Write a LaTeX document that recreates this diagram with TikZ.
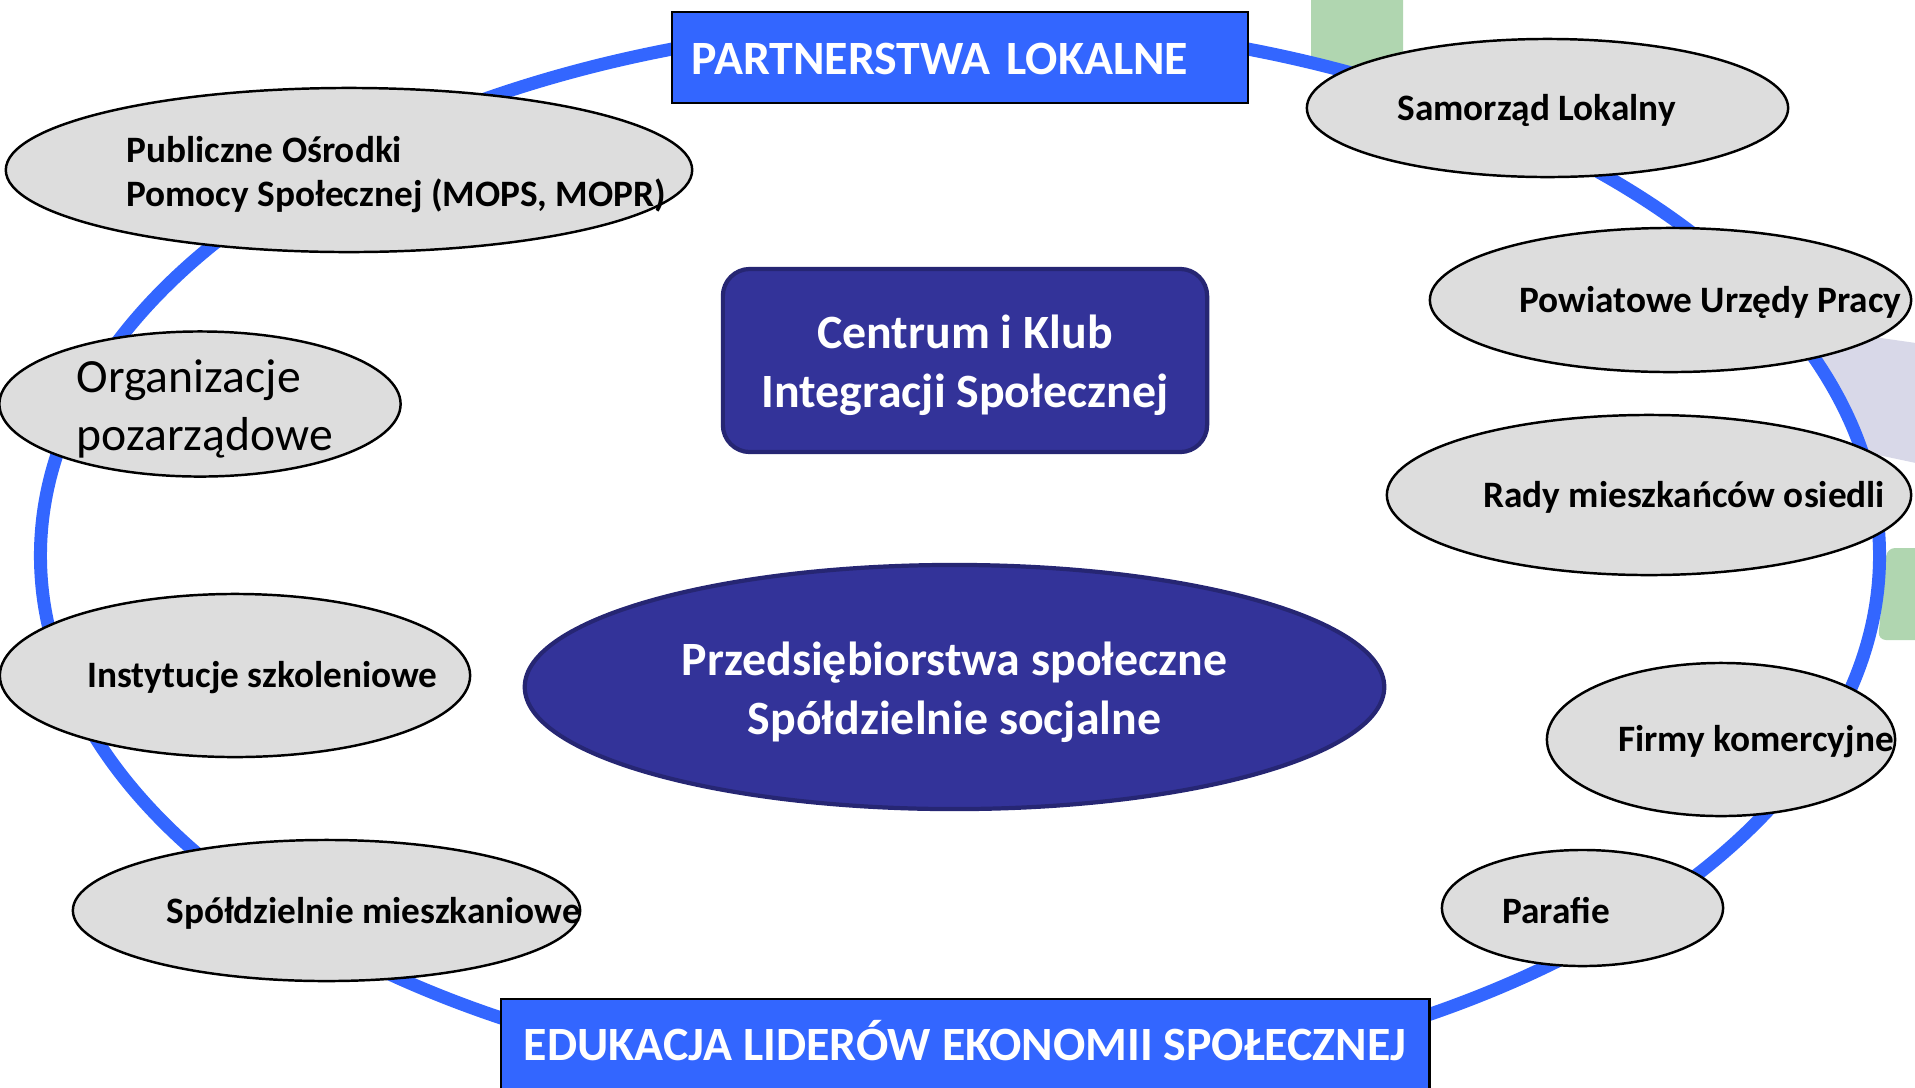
\documentclass[tikz,border=0pt]{standalone}
\usepackage{fontspec}
\setmainfont{Carlito}
\usepackage{xcolor}
\usepackage{tikz}
\usetikzlibrary{positioning,shapes.geometric}

\definecolor{ringblue}{HTML}{3366FF}
\definecolor{navyfill}{HTML}{333399}
\definecolor{navyline}{HTML}{262673}
\definecolor{greyfill}{HTML}{DDDDDD}
\definecolor{bggreen}{HTML}{B0D6B0}
\definecolor{bglilac}{HTML}{D8D8E8}

\begin{document}
\begin{tikzpicture}[
	% --- UKŁAD: 1 jednostka = 1 piksel obrazu ---
	x=0.01cm, y=-0.01cm,
	% --- STYLE ---
	partner/.style={
		ellipse, draw=black, line width=0.7pt,
		fill=greyfill, inner sep=0pt
	},
	partner_txt/.style={
		inner sep=0pt, align=left, yshift=-0.025cm,
		font=\fontsize{10.6}{12.5}\selectfont\bfseries
	},
	head_box/.style={
		rectangle, draw=black, line width=0.7pt, fill=ringblue,
		text=white, inner sep=0pt, text height=8.8pt, text depth=0pt,
		font=\fontsize{13.6}{16}\selectfont\bfseries
	},
	core/.style={
		draw=navyline, line width=1.2pt, fill=navyfill, inner sep=0pt
	},
	core_txt/.style={
		inner sep=0pt, text=white, align=center,
		font=\fontsize{13.6}{16.9}\selectfont\bfseries
	}
	]
	\useasboundingbox (0,0) rectangle (1915,1087);
	
	% Tło (fragmenty pasów)
	\fill[bggreen] (1311,-5) -- (1403,-5) -- (1403,75) -- (1350,72) -- (1311,64) -- cycle;
	\fill[bglilac] (1790,325) -- (1930,345) -- (1930,466) -- (1864,452) -- (1835,390) -- cycle;
	\fill[bggreen, rounded corners=0.08cm] (1930,548) -- (1887,548) -- (1878,640) -- (1930,640);
	
	% Pierścień
	\draw[ringblue, line width=0.13cm] (960,555.7) ellipse [x radius=9.19cm, y radius=5.33cm];
	
	% Nagłówki
	\node[head_box, minimum width=5.76cm, minimum height=0.91cm, text height=9.4pt,
		text width=5.36cm, inner xsep=0.2cm, align=left] (partnerstwa) at (960,57.5) {PARTNERSTWA LOKALNE};
	\node[head_box, minimum width=9.28cm, minimum height=0.92cm] (edukacja) at (965,1045) {EDUKACJA LIDERÓW EKONOMII SPOŁECZNEJ};
	
	% Środek
	\node[core, rectangle, rounded corners=0.27cm, minimum width=4.84cm, minimum height=1.83cm] (cis) at (965,360.5) {};
	\node[core_txt] (cis_t) at ([yshift=-0.045cm]cis.center) {Centrum i Klub\\Integracji Społecznej};
	\node[core, ellipse, minimum width=8.59cm, minimum height=2.44cm] (przeds) at (954.5,687) {};
	\node[core_txt] (przeds_t) at ([yshift=-0.055cm]przeds.center) {Przedsiębiorstwa społeczne\\Spółdzielnie socjalne};
	
	% Lewa strona
	\node[partner, minimum width=6.86cm, minimum height=1.64cm] (ops) at (349,170) {};
	\node[partner_txt, right=1.21cm of ops.west, yshift=-0.018cm] (ops_t) {Publiczne Ośrodki\\Pomocy Społecznej (MOPS, MOPR)};
	
	\node[partner, minimum width=4.01cm, minimum height=1.45cm] (ngo) at (200,404) {};
	\node[partner_txt, right=0.78cm of ngo.west, yshift=-0.025cm, font=\fontsize{13.55}{16.3}\selectfont] (ngo_t) {Organizacje\\pozarządowe};
	
	\node[partner, minimum width=4.70cm, minimum height=1.63cm] (szkol) at (235,675.5) {};
	\node[partner_txt, right=0.88cm of szkol.west] (szkol_t) {Instytucje szkoleniowe};
	
	\node[partner, minimum width=5.07cm, minimum height=1.41cm] (spmieszk) at (326.5,910.5) {};
	\node[partner_txt, right=0.94cm of spmieszk.west] (spmieszk_t) {Spółdzielnie mieszkaniowe};
	
	% Prawa strona
	\node[partner, minimum width=4.81cm, minimum height=1.38cm] (samorzad) at (1547.5,108) {};
	\node[partner_txt, right=0.91cm of samorzad.west] (samorzad_t) {Samorząd Lokalny};
	
	\node[partner, minimum width=4.81cm, minimum height=1.44cm] (pup) at (1670.5,300) {};
	\node[partner_txt, right=0.90cm of pup.west] (pup_t) {Powiatowe Urzędy Pracy};
	
	\node[partner, minimum width=5.24cm, minimum height=1.60cm] (rady) at (1649,495) {};
	\node[partner_txt, right=0.97cm of rady.west] (rady_t) {Rady mieszkańców osiedli};
	
	\node[partner, minimum width=3.48cm, minimum height=1.53cm] (firmy) at (1721,739.5) {};
	\node[partner_txt, right=0.72cm of firmy.west] (firmy_t) {Firmy komercyjne};
	
	\node[partner, minimum width=2.81cm, minimum height=1.16cm] (parafie) at (1582.5,908) {};
	\node[partner_txt, right=0.61cm of parafie.west] (parafie_t) {Parafie};
\end{tikzpicture}
\end{document}
